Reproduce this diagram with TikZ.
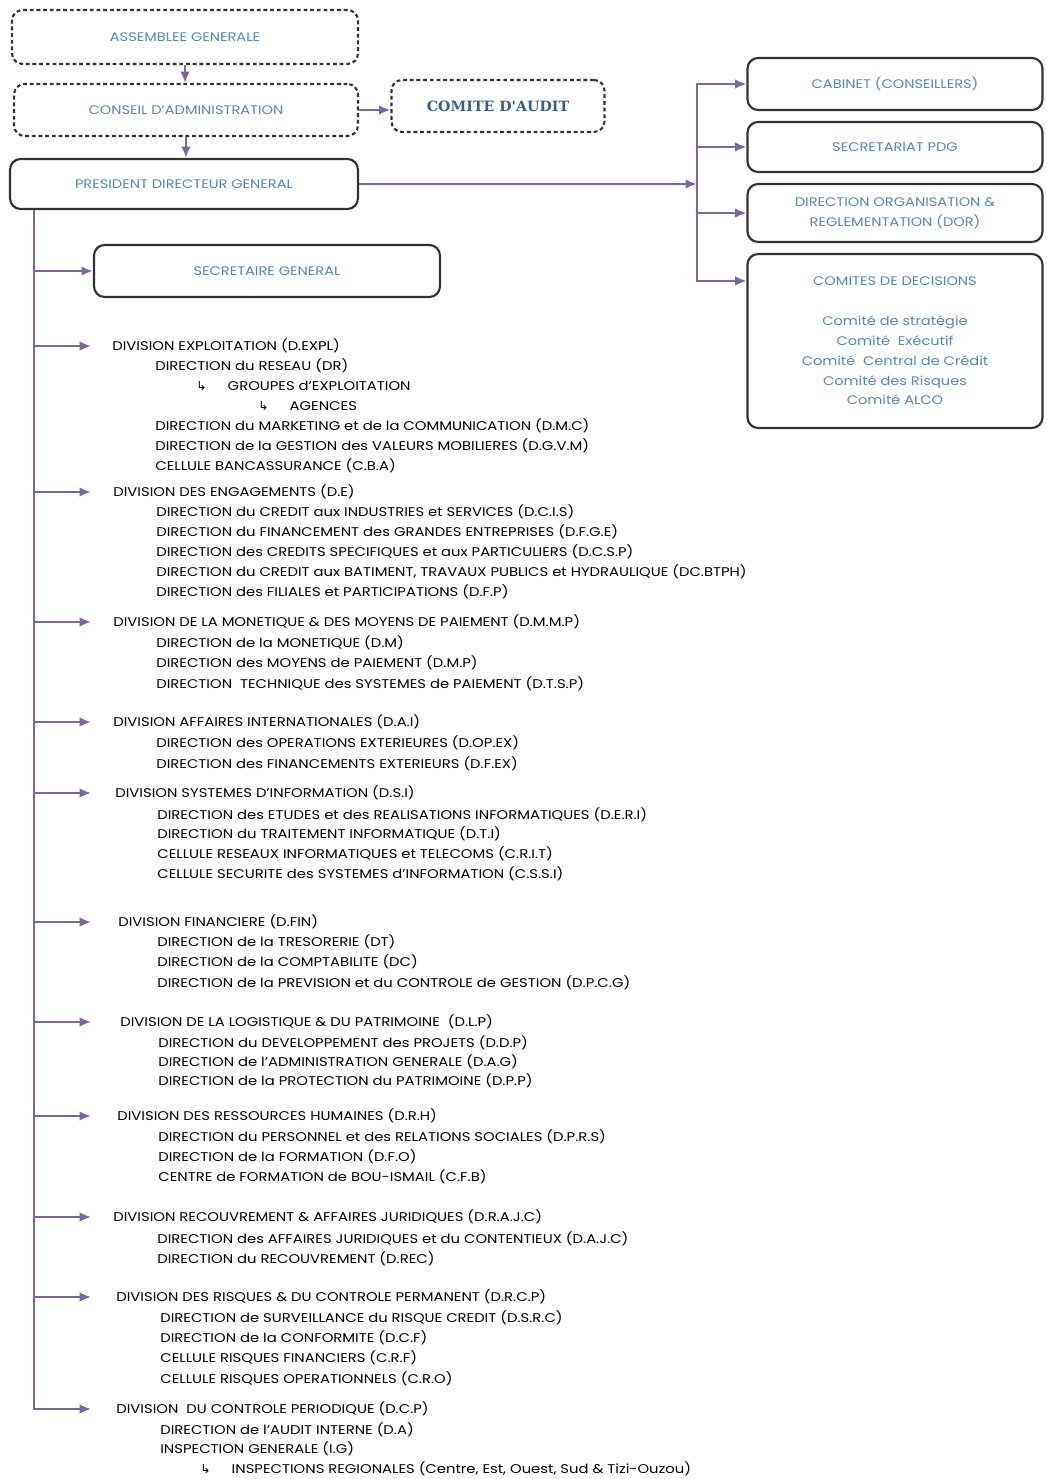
\documentclass[tikz,border=0pt]{standalone}
\usepackage{fontspec}
\setmainfont{Poppins}[FakeStretch=1.17]
\newfontfamily\auditfont{DejaVu Serif}
\newfontfamily\symfont{DejaVu Sans}
\usepackage{tikz}
\usetikzlibrary{shapes,arrows,arrows.meta,positioning}
\definecolor{orgblue}{RGB}{84,134,194}
\definecolor{auditblue}{RGB}{54,95,145}
\definecolor{linkpurple}{RGB}{128,100,162}
\definecolor{boxgray}{RGB}{50,50,50}
\tikzstyle{sbox} = [draw=boxgray, line width=1.2pt, rounded corners=6pt, align=center, text=orgblue, font=\fontsize{7.1}{11.3}\selectfont]
\tikzstyle{dbox} = [sbox, dash pattern=on 2.2pt off 1.6pt]
\tikzstyle{line} = [draw=linkpurple, line width=1.6pt]
\tikzstyle{arr} = [line, -{Latex[length=6.5pt,width=5.5pt]}]
\tikzstyle{div} = [anchor=west, inner sep=0pt, font=\fontsize{7.2}{8}\selectfont]
\tikzstyle{sub} = [div]
\newcommand{\sublink}{{\symfont\fontsize{7}{8}\selectfont ↳}\hspace{12pt}}

\begin{document}
\begin{tikzpicture}[x=0.02cm, y=-0.02cm]
	\useasboundingbox (0,0) rectangle (1046,1479);

	% top of the chart
	\node [dbox, minimum width=6.92cm, minimum height=1.08cm] (ag) at (185,37) {ASSEMBLEE GENERALE};
	\node [dbox, minimum width=6.88cm, minimum height=1.04cm] (ca) at (186,110) {CONSEIL D'ADMINISTRATION};
	\node [dbox, minimum width=4.26cm, minimum height=1.04cm, text=auditblue, font=\auditfont\bfseries\fontsize{8.1}{9}\selectfont] (audit) at (498,106) {COMITE D'AUDIT};
	\node [sbox, minimum width=6.96cm, minimum height=1.0cm] (pdg) at (184,184) {PRESIDENT DIRECTEUR GENERAL};
	\node [sbox, minimum width=6.92cm, minimum height=1.04cm] (sg) at (267,271) {SECRETAIRE GENERAL};

	% right column
	\node [sbox, minimum width=5.9cm, minimum height=1.04cm] (cab) at (895,84) {CABINET (CONSEILLERS)};
	\node [sbox, minimum width=5.9cm, minimum height=1.0cm] (sec) at (895,147) {SECRETARIAT PDG};
	\node [sbox, minimum width=5.9cm, minimum height=1.16cm] (dor) at (895,213) {DIRECTION ORGANISATION \&\\REGLEMENTATION (DOR)};
	\node [sbox, minimum width=5.9cm, minimum height=3.48cm] (com) at (895,341) {COMITES DE DECISIONS\\[11.3pt]Comité de stratégie\\Comité~ Exécutif\\Comité~ Central de Crédit\\Comité des Risques\\Comité ALCO};

	\path [arr] (ag.south) -- (ag.south |- ca.north);
	\path [arr] (ca.south) -- (ca.south |- pdg.north);
	\path [arr] (ca.east) -- (ca.east -| audit.west);

	\coordinate (hub) at (697,184);
	\path [arr] (pdg.east) -- (hub);
	\path [arr] (hub) |- (cab.west);
	\path [arr] (hub |- sec.west) -- (sec.west);
	\path [arr] (hub |- dor.west) -- (dor.west);
	\path [arr] (hub) |- ([yshift=-0.56cm]com.north west);

	% divisions
	\node [div] (dexpl) at (112,346) {DIVISION EXPLOITATION (D.EXPL)};
	\node [sub] (dr) at (155,366) {DIRECTION du RESEAU (DR)};
	\node [sub] (grp) at (196,386) {\sublink GROUPES d'EXPLOITATION};
	\node [sub] (agc) at (258,406) {\sublink AGENCES};
	\node [sub] (dmc) at (155,426) {DIRECTION du MARKETING et de la COMMUNICATION (D.M.C)};
	\node [sub] (dgvm) at (155,446) {DIRECTION de la GESTION des VALEURS MOBILIERES (D.G.V.M)};
	\node [sub] (cba) at (155,466) {CELLULE BANCASSURANCE (C.B.A)};

	\node [div] (de) at (113,492) {DIVISION DES ENGAGEMENTS (D.E)};
	\node [sub] (dcis) at (156,512) {DIRECTION du CREDIT aux INDUSTRIES et SERVICES (D.C.I.S)};
	\node [sub] (dfge) at (156,532) {DIRECTION du FINANCEMENT des GRANDES ENTREPRISES (D.F.G.E)};
	\node [sub] (dcsp) at (156,552) {DIRECTION des CREDITS SPECIFIQUES et aux PARTICULIERS (D.C.S.P)};
	\node [sub] (dcbtph) at (156,572) {DIRECTION du CREDIT aux BATIMENT, TRAVAUX PUBLICS et HYDRAULIQUE (DC.BTPH)};
	\node [sub] (dfp) at (156,592) {DIRECTION des FILIALES et PARTICIPATIONS (D.F.P)};

	\node [div] (dmmp) at (113,622) {DIVISION DE LA MONETIQUE \& DES MOYENS DE PAIEMENT (D.M.M.P)};
	\node [sub] (dm) at (156,643) {DIRECTION de la MONETIQUE (D.M)};
	\node [sub] (dmp) at (156,663) {DIRECTION des MOYENS de PAIEMENT (D.M.P)};
	\node [sub] (dtsp) at (156,684) {DIRECTION~ TECHNIQUE des SYSTEMES de PAIEMENT (D.T.S.P)};

	\node [div] (dai) at (113,722) {DIVISION AFFAIRES INTERNATIONALES (D.A.I)};
	\node [sub] (dopex) at (156,743) {DIRECTION des OPERATIONS EXTERIEURES (D.OP.EX)};
	\node [sub] (dfex) at (156,764) {DIRECTION des FINANCEMENTS EXTERIEURS (D.F.EX)};

	\node [div] (dsi) at (115,793) {DIVISION SYSTEMES D'INFORMATION (D.S.I)};
	\node [sub] (deri) at (157,815) {DIRECTION des ETUDES et des REALISATIONS INFORMATIQUES (D.E.R.I)};
	\node [sub] (dti) at (157,834) {DIRECTION du TRAITEMENT INFORMATIQUE (D.T.I)};
	\node [sub] (crit) at (157,854) {CELLULE RESEAUX INFORMATIQUES et TELECOMS (C.R.I.T)};
	\node [sub] (cssi) at (157,874) {CELLULE SECURITE des SYSTEMES d'INFORMATION (C.S.S.I)};

	\node [div] (dfin) at (118,922) {DIVISION FINANCIERE (D.FIN)};
	\node [sub] (dt) at (157,942) {DIRECTION de la TRESORERIE (DT)};
	\node [sub] (dc) at (157,962) {DIRECTION de la COMPTABILITE (DC)};
	\node [sub] (dpcg) at (157,983) {DIRECTION de la PREVISION et du CONTROLE de GESTION (D.P.C.G)};

	\node [div] (dlp) at (120,1022) {DIVISION DE LA LOGISTIQUE \& DU PATRIMOINE~ (D.L.P)};
	\node [sub] (ddp) at (158,1043) {DIRECTION du DEVELOPPEMENT des PROJETS (D.D.P)};
	\node [sub] (dag) at (158,1062) {DIRECTION de l'ADMINISTRATION GENERALE (D.A.G)};
	\node [sub] (dpp) at (158,1081) {DIRECTION de la PROTECTION du PATRIMOINE (D.P.P)};

	\node [div] (drh) at (117,1116) {DIVISION DES RESSOURCES HUMAINES (D.R.H)};
	\node [sub] (dprs) at (158,1137) {DIRECTION du PERSONNEL et des RELATIONS SOCIALES (D.P.R.S)};
	\node [sub] (dfo) at (158,1157) {DIRECTION de la FORMATION (D.F.O)};
	\node [sub] (cfb) at (158,1177) {CENTRE de FORMATION de BOU-ISMAIL (C.F.B)};

	\node [div] (drajc) at (113,1217) {DIVISION RECOUVREMENT \& AFFAIRES JURIDIQUES (D.R.A.J.C)};
	\node [sub] (dajc) at (157,1239) {DIRECTION des AFFAIRES JURIDIQUES et du CONTENTIEUX (D.A.J.C)};
	\node [sub] (drec) at (157,1259) {DIRECTION du RECOUVREMENT (D.REC)};

	\node [div] (drcp) at (116,1297) {DIVISION DES RISQUES \& DU CONTROLE PERMANENT (D.R.C.P)};
	\node [sub] (dsrc) at (160,1318) {DIRECTION de SURVEILLANCE du RISQUE CREDIT (D.S.R.C)};
	\node [sub] (dcf) at (160,1338) {DIRECTION de la CONFORMITE (D.C.F)};
	\node [sub] (crf) at (160,1358) {CELLULE RISQUES FINANCIERS (C.R.F)};
	\node [sub] (cro) at (160,1379) {CELLULE RISQUES OPERATIONNELS (C.R.O)};

	\node [div] (dcp) at (116,1409) {DIVISION~ DU CONTROLE PERIODIQUE (D.C.P)};
	\node [sub] (dain) at (160,1430) {DIRECTION de l'AUDIT INTERNE (D.A)};
	\node [sub] (ig) at (160,1449) {INSPECTION GENERALE (I.G)};
	\node [sub] (ir) at (200,1469) {\sublink INSPECTIONS REGIONALES (Centre, Est, Ouest, Sud \& Tizi-Ouzou)};

	% links from the PDG down the left side
	\coordinate (spine) at ([xshift=0.5cm]pdg.south west);
	\coordinate (tip) at (91,0);
	\path [arr] (spine) |- (tip |- dcp.west);
	\path [arr] (spine |- sg.west) -- (sg.west);
	\path [arr] (spine |- dexpl.west) -- (tip |- dexpl.west);
	\path [arr] (spine |- de.west) -- (tip |- de.west);
	\path [arr] (spine |- dmmp.west) -- (tip |- dmmp.west);
	\path [arr] (spine |- dai.west) -- (tip |- dai.west);
	\path [arr] (spine |- dsi.west) -- (tip |- dsi.west);
	\path [arr] (spine |- dfin.west) -- (tip |- dfin.west);
	\path [arr] (spine |- dlp.west) -- (tip |- dlp.west);
	\path [arr] (spine |- drh.west) -- (tip |- drh.west);
	\path [arr] (spine |- drajc.west) -- (tip |- drajc.west);
	\path [arr] (spine |- drcp.west) -- (tip |- drcp.west);
\end{tikzpicture}
\end{document}
